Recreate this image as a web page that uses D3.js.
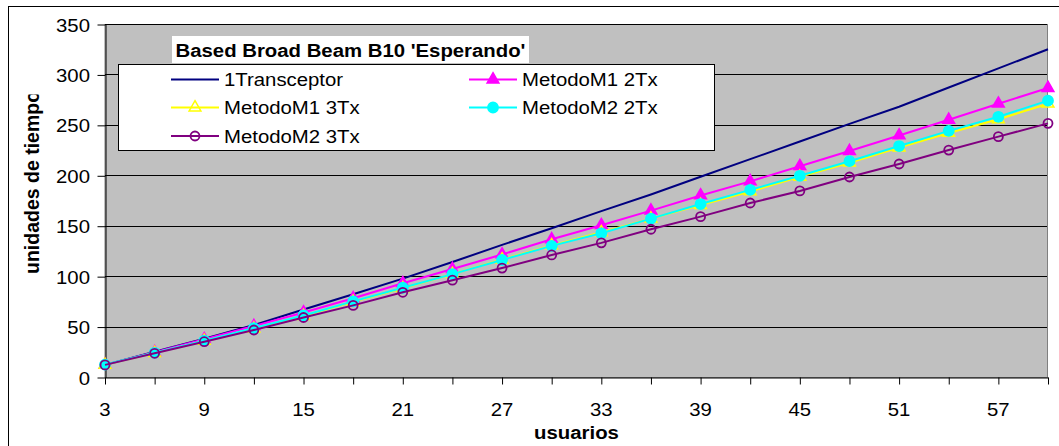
<!DOCTYPE html>
<html>
<head>
<meta charset="utf-8">
<script src="https://cdn.jsdelivr.net/npm/d3@7"></script>
<style>
  body { margin: 0; background: #fff; }
  text { font-family: Arial, "Liberation Sans", sans-serif; }
</style>
</head>
<body>
<div id="chart"></div>
<script>
// ---------- DATA ----------
var usuarios = [3, 6, 9, 12, 15, 18, 21, 24, 27, 30, 33, 36, 39, 42, 45, 48, 51, 54, 57, 60];
var xTickLabels = [3, 9, 15, 21, 27, 33, 39, 45, 51, 57];
var yTicks = [0, 50, 100, 150, 200, 250, 300, 350];

var transceptor1 = [12, 25, 38, 51.5, 67, 82, 97.5, 114, 131, 147.5, 164.5, 181, 198.5, 216, 233.5, 251, 268, 287, 306, 325];
var metodoM1_2Tx = [12, 24.5, 37.5, 50.5, 64, 78, 93, 107, 121.5, 136.5, 150.5, 165, 180, 194, 209, 224, 239.5, 255, 271, 286.5];
var metodoM1_3Tx = [12, 23.8, 35.8, 48, 60.5, 74.5, 88, 102, 116.5, 130.5, 143.5, 157, 170.5, 184, 198.5, 212.5, 227.5, 242, 255.5, 271];
var metodoM2_2Tx = [12.3, 24, 36, 48.5, 61, 75, 88.5, 102, 116, 130, 142.5, 157, 171.5, 185.5, 199.5, 214, 229, 244, 258, 274];
var metodoM2_3Tx = [12, 23.5, 35, 46.6, 59, 71, 84, 96, 108, 121, 133, 146.5, 159, 172.5, 184.5, 198.3, 211.2, 225, 238.3, 251.5];

var series = [
    {name: '1Transceptor', values: transceptor1, color: '#000080', marker: 'none'},
    {name: 'MetodoM1 2Tx', values: metodoM1_2Tx, color: '#FF00FF', marker: 'triFill'},
    {name: 'MetodoM1 3Tx', values: metodoM1_3Tx, color: '#FFFF00', marker: 'triOpen'},
    {name: 'MetodoM2 2Tx', values: metodoM2_2Tx, color: '#00FFFF', marker: 'circFill'},
    {name: 'MetodoM2 3Tx', values: metodoM2_3Tx, color: '#800080', marker: 'circOpen'}
];

// ---------- PAGE ----------
var W = 1059, H = 446;
var plot = {left: 105, right: 1048, top: 24, bottom: 377};
var sx = 1.1; // the picture is a bit wider than tall, text too

var svg = d3.select('#chart').append('svg')
    .attr('width', W)
    .attr('height', H);

// outer chart frame, runs off the right and bottom
svg.append('rect')
    .attr('x', 8.5).attr('y', 6.5)
    .attr('width', 1100).attr('height', 500)
    .attr('fill', '#fff')
    .attr('stroke', '#000');

var x = d3.scalePoint()
    .domain(usuarios)
    .range([plot.left, plot.right]);

var y = d3.scaleLinear()
    .domain([0, 350])
    .range([plot.bottom, plot.top]);

// plot area
svg.append('rect')
    .attr('x', plot.left).attr('y', plot.top + 0.5)
    .attr('width', plot.right - plot.left - 0.5)
    .attr('height', plot.bottom - plot.top)
    .attr('fill', '#C0C0C0')
    .attr('stroke', '#808080');

// gridlines
svg.selectAll('.grid')
    .data(yTicks.slice(1))
    .enter()
    .append('line')
        .attr('x1', plot.left).attr('x2', plot.right - 1)
        .attr('y1', function(d){ return Math.round(y(d)) + 0.5 })
        .attr('y2', function(d){ return Math.round(y(d)) + 0.5 })
        .attr('stroke', '#000');

// y axis
var yAxis = svg.append('g')
    .attr('transform', 'translate(' + (plot.left + 0.5) + ',0.5)')
    .call(d3.axisLeft(y).tickValues(yTicks).tickSize(8).tickSizeOuter(0));
yAxis.select('.domain').attr('stroke', '#000');
yAxis.selectAll('.tick text').remove();

svg.selectAll('.ylab')
    .data(yTicks)
    .enter()
    .append('text')
        .attr('transform', function(d){ return 'translate(90,' + (y(d) + 7.5) + ') scale(' + sx + ',1)' })
        .attr('text-anchor', 'end')
        .attr('font-size', 18.5)
        .text(function(d){ return d });

// x axis
var xAxis = svg.append('g')
    .attr('transform', 'translate(0,' + (plot.bottom + 0.5) + ')')
    .call(d3.axisBottom(x).tickSize(7).tickSizeOuter(0));
xAxis.select('.domain').attr('stroke', '#000');
xAxis.selectAll('.tick text').remove();

svg.selectAll('.xlab')
    .data(xTickLabels)
    .enter()
    .append('text')
        .attr('transform', function(d){ return 'translate(' + x(d) + ',416) scale(' + sx + ',1)' })
        .attr('text-anchor', 'middle')
        .attr('font-size', 18.5)
        .text(function(d){ return d });

// axis titles
svg.append('text')
    .attr('transform', 'translate(' + ((plot.left + plot.right) / 2) + ',439) scale(' + sx + ',1)')
    .attr('text-anchor', 'middle')
    .attr('font-size', 18.5)
    .attr('font-weight', 'bold')
    .text('usuarios');

// the y title doesn't fit in the original and gets cut at the top
svg.append('clipPath').attr('id', 'yclip')
    .append('rect').attr('x', 0).attr('y', 94.5).attr('width', 60).attr('height', 300);

svg.append('g').attr('clip-path', 'url(#yclip)')
    .append('text')
        .attr('transform', 'translate(38.5,274) rotate(-90)')
        .attr('font-size', 19.5)
        .attr('font-weight', 'bold')
        .text('unidades de tiempo');

// ---------- LINES + MARKERS ----------
var line = d3.line()
    .x(function(d,i){ return x(usuarios[i]) })
    .y(function(d){ return y(d) });

var triangle = d3.symbol().type(d3.symbolTriangle).size(60);

function drawMarker(g, kind, color, cx, cy) {
    if (kind == 'triFill' || kind == 'triOpen') {
        g.append('path')
            .attr('d', triangle())
            .attr('transform', 'translate(' + cx + ',' + cy + ')')
            .attr('fill', kind == 'triFill' ? color : 'none')
            .attr('stroke', color)
            .attr('stroke-width', 1.5);
    } else if (kind == 'circFill' || kind == 'circOpen') {
        g.append('circle')
            .attr('cx', cx).attr('cy', cy)
            .attr('r', kind == 'circFill' ? 5 : 4.5)
            .attr('fill', kind == 'circFill' ? color : 'none')
            .attr('stroke', color)
            .attr('stroke-width', 1.8);
    }
}

series.forEach(function(s){
    var g = svg.append('g');
    g.append('path')
        .datum(s.values)
        .attr('d', line)
        .attr('fill', 'none')
        .attr('stroke', s.color)
        .attr('stroke-width', 2);
    s.values.forEach(function(v,i){
        drawMarker(g, s.marker, s.color, x(usuarios[i]), y(v));
    });
});

// ---------- LEGEND ----------
svg.append('rect')
    .attr('x', 118.5).attr('y', 64.5)
    .attr('width', 596).attr('height', 86)
    .attr('fill', '#fff')
    .attr('stroke', '#000');

svg.append('rect')
    .attr('x', 172).attr('y', 36)
    .attr('width', 357).attr('height', 27)
    .attr('fill', '#fff');

svg.append('text')
    .attr('transform', 'translate(350.5,57) scale(' + sx + ',1)')
    .attr('text-anchor', 'middle')
    .attr('font-size', 18.5)
    .attr('font-weight', 'bold')
    .text("Based Broad Beam B10 'Esperando'");

var legendPos = [[171, 79.5], [469, 79.5], [171, 107.5], [469, 107.5], [171, 136]];

series.forEach(function(s,i){
    var p = legendPos[i];
    var g = svg.append('g');
    g.append('line')
        .attr('x1', p[0]).attr('x2', p[0] + 48)
        .attr('y1', p[1]).attr('y2', p[1])
        .attr('stroke', s.color)
        .attr('stroke-width', 2);
    drawMarker(g, s.marker, s.color, p[0] + 24, p[1]);
    g.append('text')
        .attr('transform', 'translate(' + (p[0] + 53) + ',' + (p[1] + 6.7) + ') scale(' + sx + ',1)')
        .attr('font-size', 18.5)
        .text(s.name);
});
</script>
</body>
</html>
